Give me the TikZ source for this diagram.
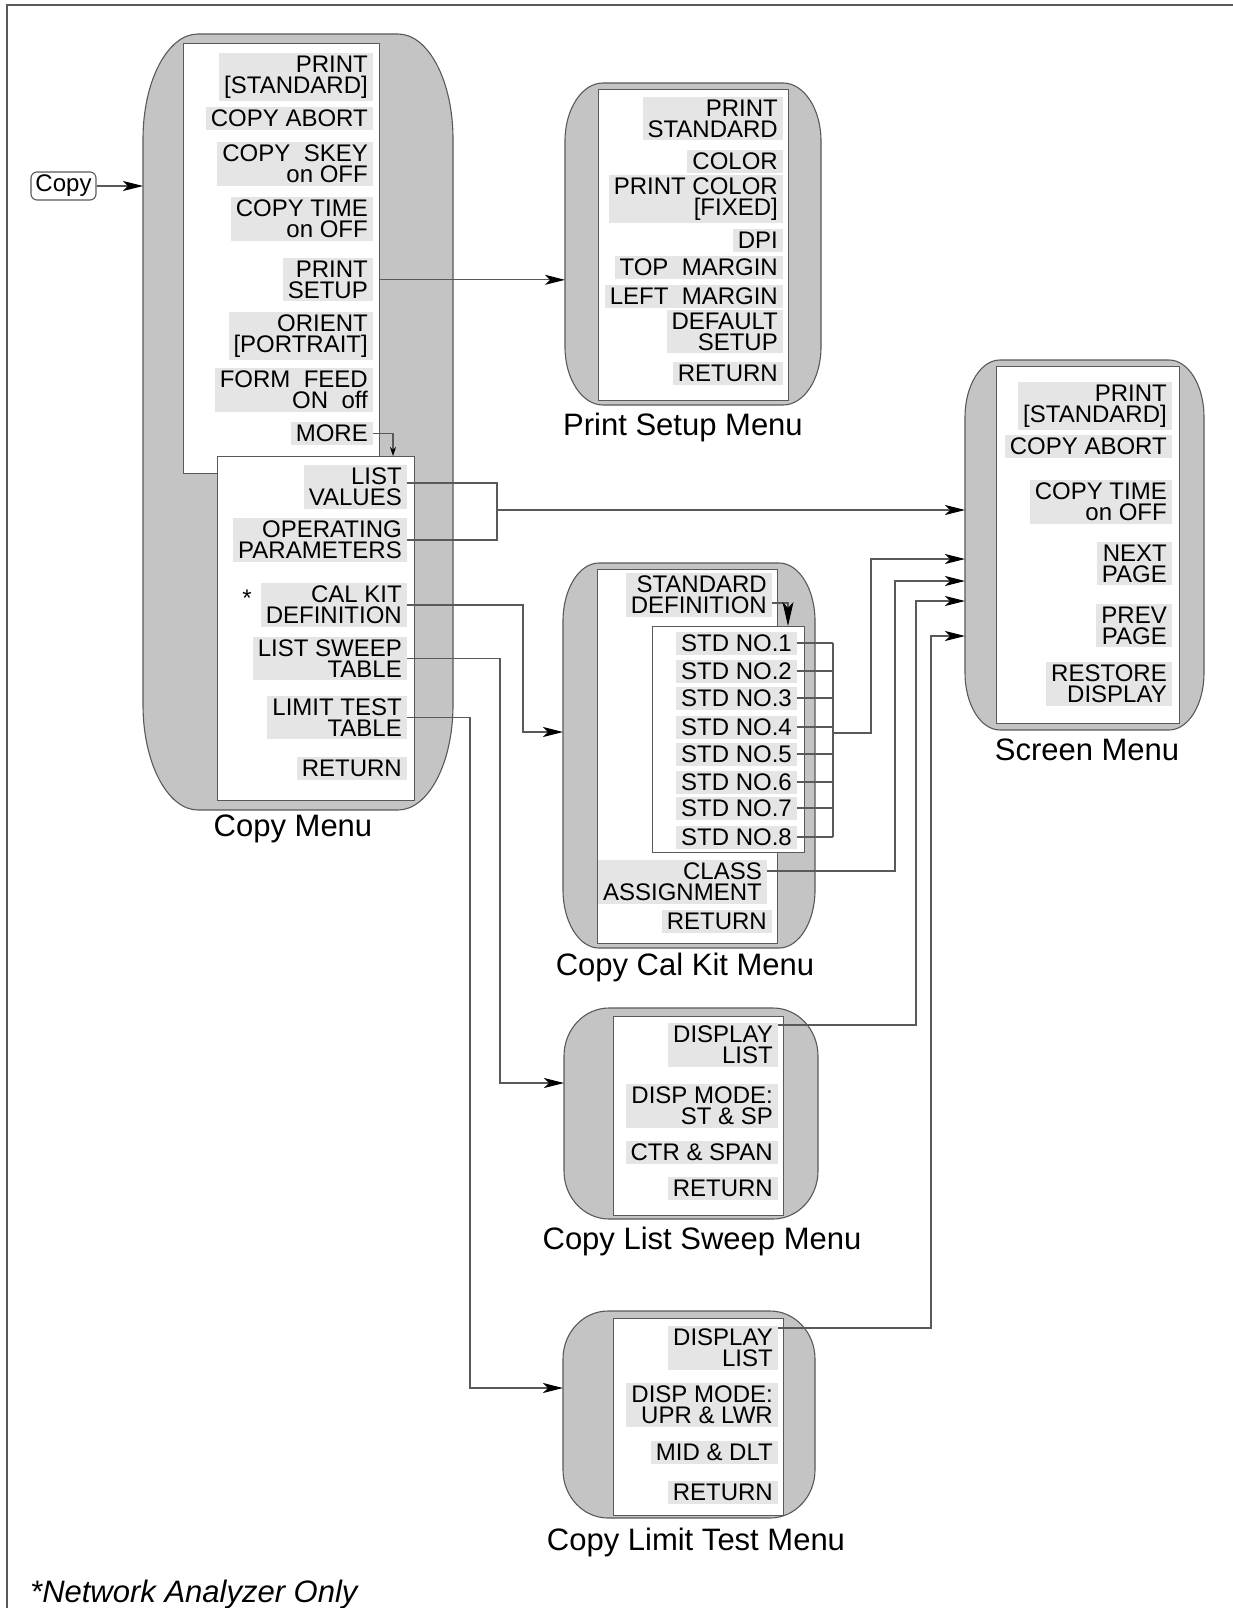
\documentclass[tikz,border=0pt]{standalone}
\usepackage{fontspec}
\setmainfont{Liberation Sans}
\usetikzlibrary{arrows.meta}
\definecolor{bubblegray}{gray}{0.77}
\definecolor{itemgray}{gray}{0.90}
\definecolor{linegray}{gray}{0.35}
\newcommand\itemfont{\fontsize{24}{20.5}\selectfont}
\newcommand\labelfont{\fontsize{31}{36}\selectfont}
\newcommand\bubble[7]{%
  \filldraw[bubblestyle] (#2+#6,#3) -- (#4-#6,#3)
    .. controls (#4-0.448*#6,#3) and (#4,#3+0.448*#7) .. (#4,#3+#7)
    -- (#4,#5-#7)
    .. controls (#4,#5-0.448*#7) and (#4-0.448*#6,#5) .. (#4-#6,#5)
    -- (#2+#6,#5)
    .. controls (#2+0.448*#6,#5) and (#2,#5-0.448*#7) .. (#2,#5-#7)
    -- (#2,#3+#7)
    .. controls (#2,#3+0.448*#7) and (#2+0.448*#6,#3) .. (#2+#6,#3) -- cycle;
  \node[inner sep=0pt, minimum width={#4-#2}, minimum height={#5-#3}, anchor=north west] (#1) at (#2,#3) {};
}
\tikzset{
  bubblestyle/.style={fill=bubblegray, draw=linegray, line width=1.1pt},
  wbox/.style={draw=linegray, fill=white, line width=1.1pt, inner sep=0pt, anchor=north west},
  itm/.style={fill=itemgray, align=right, font=\itemfont, inner xsep=5pt, inner ysep=3pt, anchor=north east, text=black},
  stditm/.style={itm, anchor=east},
  lbl/.style={font=\labelfont, anchor=base},
  conn/.style={draw=linegray, line width=1.1pt},
  arr/.style={conn, -{Stealth[length=20pt, width=10pt, inset=5pt, color=black]}},
}
\begin{document}
\begin{tikzpicture}[x=1pt, y=-1pt]
\useasboundingbox (0,0) rectangle (1233,1608);
% frame
\draw[linegray, line width=1.5pt] (7,1608) -- (7,5) -- (1233,5);

% bubbles
\bubble{cmbub}{143}{34}{453}{810}{55}{105}
\bubble{psbub}{565}{83}{821}{405}{38}{58}
\bubble{scbub}{965}{360}{1204}{730}{35}{57}
\bubble{ckbub}{563}{563}{815}{948}{36}{58}
\bubble{lsbub}{564}{1008}{818}{1219}{45}{48}
\bubble{ltbub}{563}{1311}{815}{1518}{45}{48}

% white boxes
\node[wbox, minimum width=196, minimum height=430] (cmA) at (183,43) {};
\node[wbox, minimum width=197, minimum height=344] (cmB) at (217,456) {};
\node[wbox, minimum width=190, minimum height=311] (psA) at (598,89) {};
\node[wbox, minimum width=183, minimum height=357] (scA) at (996,366) {};
\node[wbox, minimum width=180, minimum height=374] (ckA) at (597,569) {};
\node[wbox, minimum width=152, minimum height=226] (ckB) at (652,626) {};
\node[wbox, minimum width=170, minimum height=199] (lsA) at (613,1016) {};
\node[wbox, minimum width=170, minimum height=197] (ltA) at (613,1318) {};

% Copy button
\node[draw=linegray, rounded corners=6pt, line width=1.1pt, font=\itemfont, minimum width=65, minimum height=28, inner sep=0pt] (copybtn) at (63.5,186) {Copy};

% Copy menu items
\node[itm] (pstd) at (373,53) {PRINT\\{[STANDARD]}};
\node[itm] (cab) at (373,107) {COPY ABORT};
\node[itm] (csk) at (373,142) {COPY\ \ SKEY\\on OFF};
\node[itm] (ctm) at (373,197) {COPY TIME\\on OFF};
\node[itm] (pset) at (373,258) {PRINT\\SETUP};
\node[itm] (ori) at (373,312) {ORIENT\\{[PORTRAIT]}};
\node[itm] (ffd) at (373,368) {FORM\ \ FEED\\ON\ \ off};
\node[itm] (more) at (373,422) {MORE};
\node[itm] (lv) at (407,465) {LIST\\VALUES};
\node[itm] (opp) at (407,518) {OPERATING\\PARAMETERS};
\node[itm] (ckd) at (407,583) {CAL KIT\\DEFINITION};
\node[itm] (lst) at (407,637) {LIST SWEEP\\TABLE};
\node[itm] (ltt) at (407,696) {LIMIT TEST\\TABLE};
\node[itm] (cret) at (407,757) {RETURN};
\node[font=\itemfont, anchor=base, inner sep=0pt] (ast) at (247,606) {*};

% Print setup items
\node[itm] (ps1) at (783,97) {PRINT\\STANDARD};
\node[itm] (ps2) at (783,150) {COLOR};
\node[itm] (ps3) at (783,175) {PRINT COLOR\\{[FIXED]}};
\node[itm] (ps4) at (783,229) {DPI};
\node[itm] (ps5) at (783,256) {TOP\ \ MARGIN};
\node[itm] (ps6) at (783,285) {LEFT\ \ MARGIN};
\node[itm] (ps7) at (783,310) {DEFAULT\\SETUP};
\node[itm] (ps8) at (783,362) {RETURN};

% Screen items
\node[itm] (s1) at (1172,382) {PRINT\\{[STANDARD]}};
\node[itm] (s2) at (1172,435) {COPY ABORT};
\node[itm] (s3) at (1172,480) {COPY TIME\\on OFF};
\node[itm] (s4) at (1172,542) {NEXT\\PAGE};
\node[itm] (s5) at (1172,604) {PREV\\PAGE};
\node[itm] (s6) at (1172,662) {RESTORE\\DISPLAY};

% Cal kit items
\node[itm] (sd) at (772,573) {STANDARD\\DEFINITION};
\node[stditm] (std1) at (797,643) {STD NO.1};
\node[stditm] (std2) at (797,671) {STD NO.2};
\node[stditm] (std3) at (797,698) {STD NO.3};
\node[stditm] (std4) at (797,727) {STD NO.4};
\node[stditm] (std5) at (797,754) {STD NO.5};
\node[stditm] (std6) at (797,782) {STD NO.6};
\node[stditm] (std7) at (797,808) {STD NO.7};
\node[stditm] (std8) at (797,837) {STD NO.8};
\node[itm] (cls) at (767,860) {CLASS\\ASSIGNMENT};
\node[itm] (kret) at (772,910) {RETURN};

% List sweep items
\node[itm] (ls1) at (778,1023) {DISPLAY\\LIST};
\node[itm] (ls2) at (778,1084) {DISP MODE:\\ST \& SP};
\node[itm] (ls3) at (778,1141) {CTR \& SPAN};
\node[itm] (ls4) at (778,1177) {RETURN};

% Limit test items
\node[itm] (lt1) at (778,1326) {DISPLAY\\LIST};
\node[itm] (lt2) at (778,1383) {DISP MODE:\\UPR \& LWR};
\node[itm] (lt3) at (778,1441) {MID \& DLT};
\node[itm] (lt4) at (778,1481) {RETURN};

% labels
\node[lbl] (lcm) at (293,836) {Copy Menu};
\node[lbl] (lps) at (683,435) {Print Setup Menu};
\node[lbl] (lsc) at (1087,760) {Screen Menu};
\node[lbl] (lck) at (685,975) {Copy Cal Kit Menu};
\node[lbl] (lls) at (702,1249) {Copy List Sweep Menu};
\node[lbl] (llt) at (696,1550) {Copy Limit Test Menu};
\node[font=\labelfont\itshape, anchor=base west, inner sep=0pt] (foot) at (30,1602) {*Network Analyzer Only};

% helper coordinates
\coordinate (moreturn) at (393,430);
\coordinate (jn) at (497,510);
\coordinate (ckbend) at (523,732);
\coordinate (lsbend) at (500,1083);
\coordinate (ltbend) at (470,1388);
\coordinate (sdbend) at (788,603);
\coordinate (bus) at (833,733);
\coordinate (busup) at (871,559);
\coordinate (clsup) at (895,581);
\coordinate (lsup) at (916,601);
\coordinate (ltup) at (931,636);

% connectors
\draw[arr] (copybtn.east) -- (copybtn.east -| cmbub.west);
\draw[arr] (cmA.east |- pset.east) -- (pset.east -| psbub.west);
\draw[conn, -{Stealth[length=9pt, width=6pt, color=black]}] (more.east) -- (more.east -| moreturn) -- (moreturn |- cmB.north);
\draw[conn] ([yshift=4pt]lv.east) -- ([yshift=4pt]lv.east -| jn) -- (opp.east -| jn) -- (opp.east);
\draw[arr] (jn) -- (jn -| scbub.west);
\draw[arr] (ckd.east) -| (ckbend) -- (ckbend -| ckbub.west);
\draw[arr] (lst.east) -| (lsbend) -- (lsbend -| lsbub.west);
\draw[arr] (ltt.east) -| (ltbend) -- (ltbend -| ltbub.west);
\draw[conn, -{Stealth[length=24pt, width=11pt, inset=6pt, color=black]}] ([yshift=-8pt]sd.east) -| (sdbend |- ckB.north);
\foreach \k in {1,...,8} { \draw[conn] (std\k.east) -- (std\k.east -| bus); }
\draw[conn] (std1.east -| bus) -- (std8.east -| bus);
\draw[arr] (bus) -| (busup) -- (busup -| scbub.west);
\draw[arr] ([yshift=11pt]cls.east) -| (clsup) -- (clsup -| scbub.west);
\draw[arr] ([yshift=20pt]ls1.east) -| (lsup) -- (lsup -| scbub.west);
\draw[arr] ([yshift=20pt]lt1.east) -| (ltup) -- (ltup -| scbub.west);
\end{tikzpicture}
\end{document}
